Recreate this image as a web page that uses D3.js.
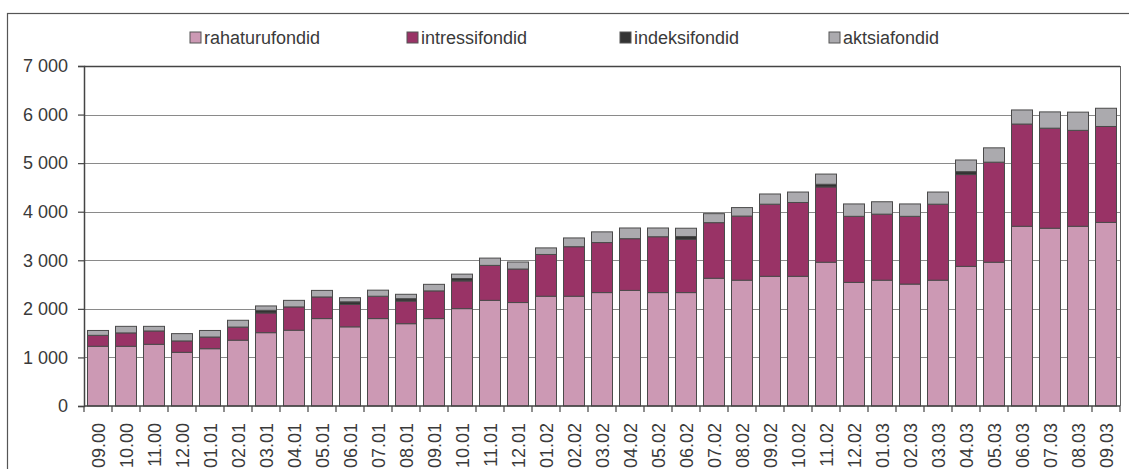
<!DOCTYPE html>
<html>
<head>
<meta charset="utf-8">
<script src="https://cdn.jsdelivr.net/npm/d3@7.9.0/dist/d3.min.js"></script>
<style>
  html, body { margin: 0; padding: 0; background: #fff; }
  svg { display: block; font-family: "Liberation Sans", Arial, sans-serif; }
</style>
</head>
<body>
<div id="chart"></div>
<script>
const months = ['09.00','10.00','11.00','12.00','01.01','02.01','03.01','04.01','05.01','06.01',
  '07.01','08.01','09.01','10.01','11.01','12.01','01.02','02.02','03.02','04.02','05.02','06.02',
  '07.02','08.02','09.02','10.02','11.02','12.02','01.03','02.03','03.03','04.03','05.03','06.03',
  '07.03','08.03','09.03'];

const rahaturu = [1230,1230,1270,1105,1180,1355,1510,1560,1800,1630,1800,1695,1800,2005,2175,2130,
  2260,2260,2335,2380,2335,2335,2630,2590,2670,2670,2960,2545,2590,2510,2590,2875,2960,3700,3660,3700,3780];
const intressi = [225,275,275,235,240,270,405,480,445,460,460,465,570,570,720,690,
  860,1020,1030,1065,1150,1095,1145,1320,1485,1520,1550,1360,1360,1395,1565,1890,2060,2105,2060,1975,1975];
const indeksi = [0,0,0,0,0,0,55,0,0,55,0,50,0,50,0,0,
  0,0,0,0,0,60,0,0,0,0,55,0,0,0,0,60,0,0,0,0,0];
const aktsia = [100,135,95,150,135,140,90,135,135,85,125,90,135,90,150,145,
  135,180,220,220,180,170,185,175,210,215,210,255,255,255,250,240,295,290,335,375,375];

const seriesNames = ['rahaturufondid','intressifondid','indeksifondid','aktsiafondid'];
const colors = ['#cc99b4','#993366','#333333','#abaaae'];
const yTicks = [0,1000,2000,3000,4000,5000,6000,7000];

const W = 1129, H = 469;
const plot = { left: 84, right: 1120, top: 66, bottom: 406 };

const rows = months.map((m, i) => ({
  month: m,
  rahaturufondid: rahaturu[i],
  intressifondid: intressi[i],
  indeksifondid: indeksi[i],
  aktsiafondid: aktsia[i]
}));
const stacked = d3.stack().keys(seriesNames)(rows);

const svg = d3.select('#chart').append('svg')
  .attr('width', W).attr('height', H);

// outer frame
svg.append('rect')
  .attr('x', 7.5).attr('y', 13.5).attr('width', 1140).attr('height', 500)
  .attr('fill', '#fff').attr('stroke', '#555').attr('stroke-width', 1.2);

const x = d3.scaleBand().domain(months).range([plot.left, plot.right]).paddingInner(0.25).paddingOuter(0.125);
const y = d3.scaleLinear().domain([0, 7000]).range([plot.bottom, plot.top]);
const fmt = d => d3.format(',')(d).replace(',', ' ');

// gridlines
svg.append('g')
  .selectAll('line')
  .data(yTicks.slice(1))
  .join('line')
    .attr('x1', plot.left).attr('x2', plot.right)
    .attr('y1', d => Math.round(y(d)) + 0.5).attr('y2', d => Math.round(y(d)) + 0.5)
    .attr('stroke', d => d === 7000 ? '#444' : '#8a8a8a')
    .attr('stroke-width', d => d === 7000 ? 1.5 : 1.2);

// right border of plot area
svg.append('line')
  .attr('x1', plot.right + 0.5).attr('x2', plot.right + 0.5)
  .attr('y1', plot.top).attr('y2', plot.bottom)
  .attr('stroke', '#666').attr('stroke-width', 1);

// bars
svg.append('g')
  .selectAll('g')
  .data(stacked)
  .join('g')
    .attr('fill', (d, i) => colors[i])
  .selectAll('rect')
  .data(d => d)
  .join('rect')
    .attr('x', d => x(d.data.month))
    .attr('width', x.bandwidth())
    .attr('y', d => y(d[1]))
    .attr('height', d => y(d[0]) - y(d[1]))
    .attr('stroke', '#4a4a4a')
    .attr('stroke-width', 1);

// y axis
const yAxis = svg.append('g')
  .attr('transform', `translate(${plot.left},0)`)
  .call(d3.axisLeft(y).tickValues(yTicks).tickFormat(fmt).tickSize(6).tickPadding(10));
yAxis.select('.domain').attr('stroke', '#444').attr('stroke-width', 1.5);
yAxis.selectAll('.tick line').attr('stroke', '#444').attr('stroke-width', 1.2);
yAxis.selectAll('.tick text').attr('fill', '#3a3a3a').style('font-size', '18px');

// x axis: ticks between categories
const xAxis = svg.append('g').attr('transform', `translate(0,${plot.bottom})`);
xAxis.append('line')
  .attr('x1', plot.left).attr('x2', plot.right)
  .attr('stroke', '#444').attr('stroke-width', 1.5);
const step = x.step();
xAxis.selectAll('line.tk')
  .data(d3.range(months.length + 1))
  .join('line')
    .attr('class', 'tk')
    .attr('x1', i => plot.left + i * step).attr('x2', i => plot.left + i * step)
    .attr('y1', 0).attr('y2', 6)
    .attr('stroke', '#444').attr('stroke-width', 1.2);
xAxis.selectAll('text')
  .data(months)
  .join('text')
    .attr('transform', d => `translate(${x(d) + x.bandwidth() / 2 + 6.5},17) rotate(-90)`)
    .attr('text-anchor', 'end')
    .attr('fill', '#3a3a3a')
    .style('font-size', '18px')
    .text(d => d);

// legend
const legendX = [190, 407, 620, 829];
const legend = svg.append('g')
  .selectAll('g')
  .data(seriesNames)
  .join('g')
    .attr('transform', (d, i) => `translate(${legendX[i]},32)`);
legend.append('rect')
  .attr('width', 11).attr('height', 11)
  .attr('fill', (d, i) => colors[i])
  .attr('stroke', '#555').attr('stroke-width', 1);
legend.append('text')
  .attr('x', 14).attr('y', 12)
  .attr('fill', '#3a3a3a')
  .style('font-size', '18px')
  .text(d => d);
</script>
</body>
</html>
